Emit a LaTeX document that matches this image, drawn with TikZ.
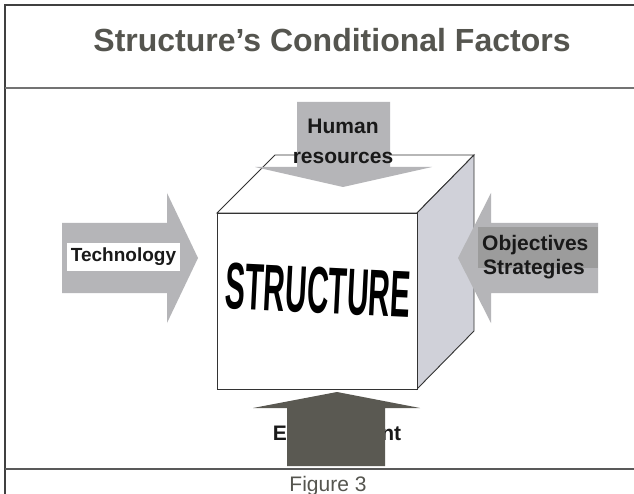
\documentclass[tikz,border=0pt]{standalone}
\usepackage{fontspec}
\setmainfont{Liberation Sans}
\definecolor{titelgrau}{HTML}{55554F}
\definecolor{pfeilgrau}{HTML}{B5B5B8}
\definecolor{seitegrau}{HTML}{D0D1D9}
\definecolor{dunkelgrau}{HTML}{5A5952}
\definecolor{kastengrau}{HTML}{9C9C9C}

\begin{document}
\begin{tikzpicture}[x=1pt,y=-1pt,
		rahmen/.style={line width=1.2pt,black!75},
		kante/.style={line width=0.9pt,black!80,line join=miter},
		pfeil/.style={fill=pfeilgrau},
		etikett/.style={font=\bfseries\fontsize{21}{24}\selectfont,text=black!90,inner sep=0pt}]
				\useasboundingbox (0,0) rectangle (634,494);
				\fill[white] (0,0) rectangle (634,494);
				% Rahmen und Titel
				\draw[rahmen,line width=1.6pt] (5,494) -- (5,5) -- (634,5);
				\draw[rahmen,black!55] (5,88) -- (634,88);
				\draw[rahmen,black!65] (5,469) -- (634,469);
				\node[anchor=base,font=\bfseries\fontsize{32}{32}\selectfont,text=titelgrau,inner sep=0pt] (titel) at (332,52) {Structure's Conditional Factors};
				% Wuerfel
				\draw[kante,fill=white] (217,213) -- (275,155) -- (474,155) -- (417,213) -- cycle;
				\draw[kante,fill=seitegrau] (417,213) -- (474,155) -- (474,331) -- (417,389) -- cycle;
				\draw[kante,fill=white] (217,213) rectangle (417,389);
				\node[font=\bfseries\fontsize{66}{66}\selectfont,rotate=-2.8,xscale=0.455,inner sep=0pt] (struktur) at (318,290) {STRUCTURE};
				% Pfeile von oben, links, rechts
				\fill[pfeil] (297,102) -- (390,102) -- (390,167) -- (432,167) -- (343,187) -- (255,167) -- (297,167) -- cycle;
				\node[etikett,anchor=base] (mensch) at (343,134) {Human};
				\node[etikett,anchor=base] (ressourcen) at (343,164) {resources};
				\fill[pfeil] (62,223) -- (167,223) -- (167,193) -- (198,258) -- (167,323) -- (167,293) -- (62,293) -- cycle;
				\node[etikett,fill=white,font=\bfseries\fontsize{19}{19}\selectfont,minimum width=113pt,minimum height=28pt] (technik) at (123.5,257) {Technology};
				\fill[pfeil] (598,223) -- (491,223) -- (491,193) -- (458,258) -- (491,323) -- (491,293) -- (598,293) -- cycle;
				\fill[kastengrau] (478,227) rectangle (598,268);
				\node[etikett,anchor=base west] (ziele) at (482,251) {Objectives};
				\node[etikett,anchor=base west] (strategien) at (483,275) {Strategies};
				% Pfeil von unten liegt ueber der Schrift
				\node[etikett,anchor=base] (umwelt) at (337,440) {Environment};
				\fill[dunkelgrau] (287,466) -- (287,408) -- (253,408) -- (337,392) -- (420,408) -- (385,408) -- (385,466) -- cycle;
				\node[anchor=base,font=\fontsize{21}{21}\selectfont,text=titelgrau,inner sep=0pt] (abbildung) at (328,491) {Figure 3};
			\end{tikzpicture}
\end{document}
